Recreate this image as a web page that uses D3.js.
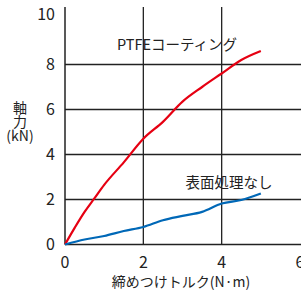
<!DOCTYPE html>
<html>
<head>
<meta charset="utf-8">
<script src="https://cdn.jsdelivr.net/npm/d3@7"></script>
<style>
  body { margin: 0; background: #fff; }
  text { font-family: "Noto Sans CJK JP", "Noto Sans", sans-serif; fill: #222; }
</style>
</head>
<body>
<div id="chart"></div>
<script>
var xTicks = [0, 2, 4, 6];
var yTicks = [0, 2, 4, 6, 8, 10];
var ptfeTorque = [0, 0.25, 0.5, 0.75, 1, 1.5, 2, 2.5, 3, 3.5, 4, 4.5, 5];
var ptfeForce = [0, 0.75, 1.45, 2.05, 2.65, 3.65, 4.7, 5.45, 6.35, 7.0, 7.6, 8.2, 8.6];
var plainTorque = [0, 0.5, 1, 1.5, 2, 2.5, 3, 3.5, 4, 4.5, 5];
var plainForce = [0, 0.22, 0.38, 0.6, 0.78, 1.08, 1.27, 1.45, 1.82, 1.98, 2.27];
var seriesNames = ['PTFEコーティング', '表面処理なし'];

var width = 301, height = 294;
var svg = d3.select('#chart').append('svg')
    .attr('width', width)
    .attr('height', height);

var x = d3.scaleLinear().domain([0, 6]).range([65, 300]);
var y = d3.scaleLinear().domain([0, 10]).range([244.5, 19.5]);

// grid
svg.selectAll('line.h')
    .data(yTicks.filter(function (d) { return d > 0 && d < 10; }))
    .enter().append('line')
    .attr('class', 'h')
    .attr('x1', x(0)).attr('x2', width)
    .attr('y1', function (d) { return y(d); })
    .attr('y2', function (d) { return y(d); })
    .attr('stroke', '#222').attr('stroke-width', 1.3);

svg.selectAll('line.v')
    .data([2, 4])
    .enter().append('line')
    .attr('class', 'v')
    .attr('x1', function (d) { return x(d); })
    .attr('x2', function (d) { return x(d); })
    .attr('y1', 7).attr('y2', y(0))
    .attr('stroke', '#222').attr('stroke-width', 1.3);

// axes lines
svg.append('line')
    .attr('x1', x(0)).attr('x2', x(0))
    .attr('y1', 7).attr('y2', y(0))
    .attr('stroke', '#222').attr('stroke-width', 1.5);
svg.append('line')
    .attr('x1', x(0)).attr('x2', width)
    .attr('y1', y(0)).attr('y2', y(0))
    .attr('stroke', '#222').attr('stroke-width', 1.5);

// tick labels
svg.selectAll('text.yt')
    .data(yTicks)
    .enter().append('text')
    .attr('class', 'yt')
    .attr('x', 55)
    .attr('y', function (d) { return d == 10 ? y(d) - 5 : y(d); })
    .attr('dy', '0.36em')
    .attr('text-anchor', 'end')
    .style('font-size', '16px')
    .text(function (d) { return d; });

svg.selectAll('text.xt')
    .data(xTicks)
    .enter().append('text')
    .attr('class', 'xt')
    .attr('x', function (d) { return x(d); })
    .attr('y', 262)
    .attr('dy', '0.36em')
    .attr('text-anchor', 'middle')
    .style('font-size', '16px')
    .text(function (d) { return d; });

// axis titles
svg.append('text')
    .attr('x', 181).attr('y', 282)
    .attr('dy', '0.36em')
    .attr('text-anchor', 'middle')
    .style('font-size', '14px')
    .text('締めつけトルク(N·m)');

var yTitle = ['軸', '力', '(kN)'];
svg.selectAll('text.yl')
    .data(yTitle)
    .enter().append('text')
    .attr('class', 'yl')
    .attr('x', 20)
    .attr('y', function (d, i) { return 107.5 + i * 14; })
    .attr('dy', '0.36em')
    .attr('text-anchor', 'middle')
    .style('font-size', '14px')
    .text(function (d) { return d; });

// lines
var line = d3.line()
    .x(function (d) { return x(d[0]); })
    .y(function (d) { return y(d[1]); })
    .curve(d3.curveMonotoneX);

svg.append('path')
    .datum(d3.zip(ptfeTorque, ptfeForce))
    .attr('d', line)
    .attr('fill', 'none')
    .attr('stroke', '#e60012')
    .attr('stroke-width', 2.2);

svg.append('path')
    .datum(d3.zip(plainTorque, plainForce))
    .attr('d', line)
    .attr('fill', 'none')
    .attr('stroke', '#0068b7')
    .attr('stroke-width', 2.2);

// series labels
svg.append('text')
    .attr('x', 177).attr('y', 45)
    .attr('dy', '0.36em')
    .attr('text-anchor', 'middle')
    .style('font-size', '14.5px')
    .text(seriesNames[0]);

svg.append('text')
    .attr('x', 229).attr('y', 183)
    .attr('dy', '0.36em')
    .attr('text-anchor', 'middle')
    .style('font-size', '14.5px')
    .text(seriesNames[1]);
</script>
</body>
</html>
